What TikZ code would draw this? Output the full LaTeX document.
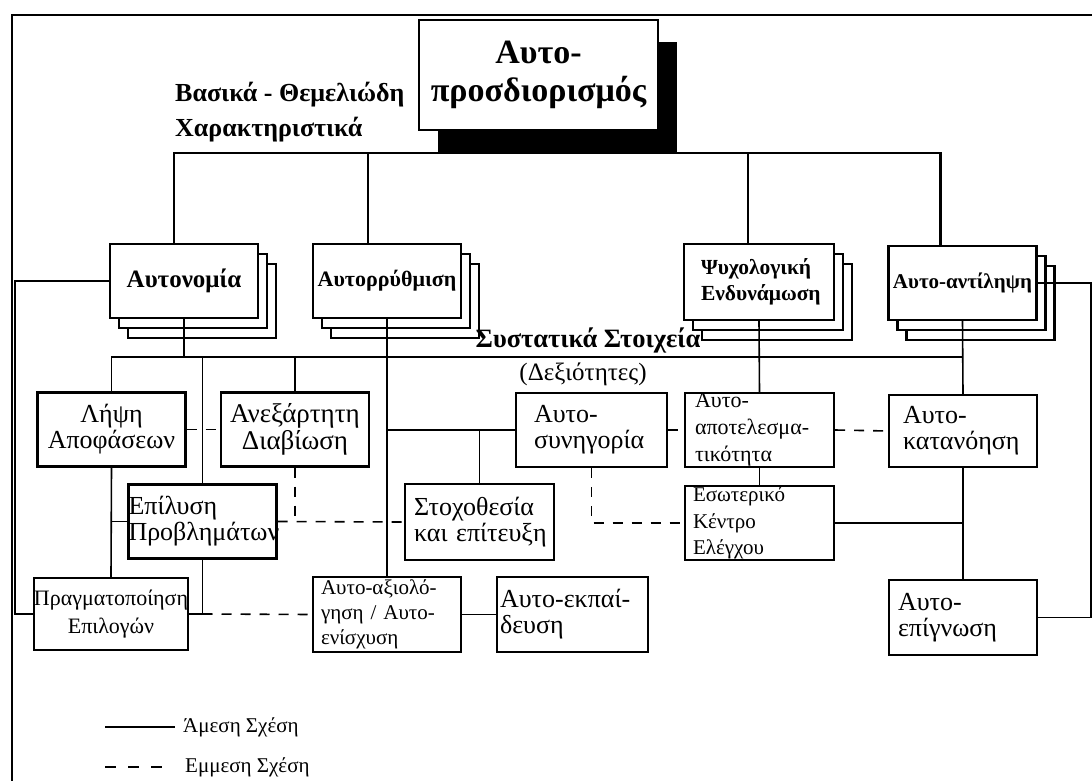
\documentclass[tikz,border=0pt]{standalone}
\usepackage{fontspec}
\setmainfont{Liberation Serif}
\usetikzlibrary{shadows,calc}

\tikzset{
  cell/.style={draw, line width=2.4pt, fill=white, minimum width=148pt,
    minimum height=74pt, inner sep=0pt, align=center,
    font=\fontsize{26}{26}\selectfont},
  lcell/.style={cell, align=left, text width=#1},
  stack/.style={cell, font=\bfseries\fontsize{22}{26}\selectfont,
    copy shadow={shadow xshift=18pt, shadow yshift=-20pt},
    copy shadow={shadow xshift=9pt, shadow yshift=-10pt}},
  link/.style={line width=1.6pt},
  trunk/.style={line width=2.4pt},
  hint/.style={link, dash pattern=on 10pt off 9pt},
  label/.style={inner sep=0pt, font=\fontsize{25}{26}\selectfont},
}

\begin{document}
\begin{tikzpicture}[x=1pt, y=-1pt]
  \useasboundingbox (0,0) rectangle (1092,781);
  \draw[line width=2.6pt] (1092,15) -| (12,781);

  % main concept
  \node[cell, minimum width=239pt, minimum height=110pt,
    font=\bfseries\fontsize{34}{38}\selectfont,
    drop shadow={shadow xshift=19pt, shadow yshift=-22pt, fill=black, opacity=1}]
    (top) at (538.5,75) {Αυτο-\\προσδιορισμός};
  \node[anchor=north west, align=left, inner sep=0pt,
    font=\bfseries\fontsize{26}{35}\selectfont]
    (basic) at (175,82) {Βασικά - Θεμελιώδη\\Χαρακτηριστικά};

  % basic characteristics
  \node[stack, font=\bfseries\fontsize{25}{26}\selectfont] (auton) at (184,281) {Αυτονομία};
  \node[stack] (autoreg) at (387,281) {Αυτορρύθμιση};
  \node[stack, minimum width=150pt, minimum height=76pt, align=left,
    text width=116pt, font=\bfseries\fontsize{21.5}{26}\selectfont]
    (psych) at (759,282) {Ψυχολογική\\Ενδυνάμωση};
  \node[stack, font=\bfseries\fontsize{21}{26}\selectfont] (perc) at (962.5,283) {Αυτο-αντίληψη};

  \node[label, font=\bfseries\fontsize{26.5}{27}\selectfont] (comp) at (588,340) {Συστατικά Στοιχεία};
  \node[label] (skills) at (583,374) {(Δεξιότητες)};

  % skills
  \node[cell] (decide) at (111.5,429.5) {Λήψη\\Αποφάσεων};
  \node[cell, font=\fontsize{27}{27}\selectfont] (indep) at (295,429.5) {Ανεξάρτητη\\Διαβίωση};
  \node[lcell=148pt] (solve) at (202.5,521.5) {Επίλυση\\Προβλημάτων};
  \node[cell, minimum height=72pt, font=\fontsize{22}{28}\selectfont]
    (choice) at (111,614) {Πραγματοποίηση\\Επιλογών};
  \node[lcell=115pt, minimum width=151pt] (advoc) at (591.5,430) {Αυτο-\\συνηγορία};
  \node[lcell=131pt, minimum width=149pt, minimum height=76pt]
    (goal) at (479.5,522) {Στοχοθεσία\\και~επίτευξη};
  \node[lcell=132pt, minimum height=75pt, font=\fontsize{21}{25}\selectfont]
    (eval) at (387,614.5) {Αυτο-αξιολό-\\γηση~/~Αυτο-\\ενίσχυση};
  \node[lcell=145pt, minimum width=151pt, minimum height=75pt]
    (teach) at (572.5,614.5) {Αυτο-εκπαί-\\δευση};
  \node[lcell=129pt, minimum width=149pt, font=\fontsize{22}{27}\selectfont]
    (effic) at (759.5,430) {Αυτο-\\αποτελεσμα-\\τικότητα};
  \node[lcell=133pt, minimum width=149pt, font=\fontsize{21}{26.5}\selectfont]
    (locus) at (759.5,523) {Εσωτερικό\\Κέντρο\\Ελέγχου};
  \node[lcell=120pt, minimum height=72pt] (under) at (963,431) {Αυτο-\\κατανόηση};
  \node[lcell=130pt, minimum height=75pt] (aware) at (963,617.5) {Αυτο-\\επίγνωση};

  % legend
  \node[anchor=west, inner sep=0pt, font=\fontsize{21}{24}\selectfont] (direct) at (183,727) {Άμεση Σχέση};
  \node[anchor=west, inner sep=0pt, font=\fontsize{21}{24}\selectfont] (indirect) at (185,767) {Εμμεση Σχέση};
  \draw[link] ([xshift=-78pt]direct.west) -- ([xshift=-8pt]direct.west);
  \draw[link, dash pattern=on 11pt off 12pt] ([xshift=-80pt]indirect.west) -- ([xshift=-12pt]indirect.west);

  % top level connectors
  \coordinate (bus) at ($(top.south)+(0,22)$);
  \coordinate (n1) at ([xshift=-10pt]auton.north);
  \coordinate (n2) at ([xshift=-19pt]autoreg.north);
  \coordinate (n3) at ([xshift=-11pt]psych.north);
  \coordinate (n4) at ([xshift=-22pt]perc.north);
  \draw[trunk] (n1) |- (bus) -| (n4);
  \draw[trunk] (n2) -- (n2 |- bus);
  \draw[trunk] (n3) -- (n3 |- bus);

  % skills connectors
  \coordinate (bus2) at (0,357);
  \draw[link] (auton.south) -- (auton.south |- bus2);
  \draw[link] (decide.north) |- (perc.south |- bus2);
  \draw[link] (perc.south) -- (under.north);
  \draw[link] (solve.north) -- (solve.north |- bus2);
  \draw[link] (indep.north) -- (indep.north |- bus2);
  \draw[link] (autoreg.south) -- (eval.north);
  \draw[link] (psych.south) -- (effic.north);
  \draw[link] (autoreg.south |- advoc.west) -- (advoc.west);
  \draw[link] (goal.north) -- (goal.north |- advoc.west);
  \draw[link] (auton.west) -| ([xshift=-18pt]choice.west) -- (choice.west);
  \draw[link] (decide.south) -- (choice.north);
  \draw[link] (decide.south |- solve.west) -- (solve.west);
  \draw[hint] (decide.east) -- (indep.west);
  \draw[hint] (solve.east) -- (goal.west);
  \draw[hint] (indep.south) -- (indep.south |- solve.east);
  \draw[link] (solve.south) -- (solve.south |- choice.east);
  \draw[link] (choice.east) -- (solve.south |- choice.east);
  \draw[hint] (solve.south |- choice.east) -- (eval.west);
  \draw[link] (eval.east) -- (teach.west);
  \draw[hint] (advoc.east) -- (effic.west);
  \draw[hint] (advoc.south) |- (locus.west);
  \draw[link] (effic.south) -- (locus.north);
  \draw[hint] (effic.east) -- (under.west);
  \draw[link] (locus.east) -- (locus.east -| under.south);
  \draw[link] (under.south) -- (aware.north);
  \draw[link] (perc.east) -| ([xshift=53pt]aware.east) -- (aware.east);
\end{tikzpicture}
\end{document}
